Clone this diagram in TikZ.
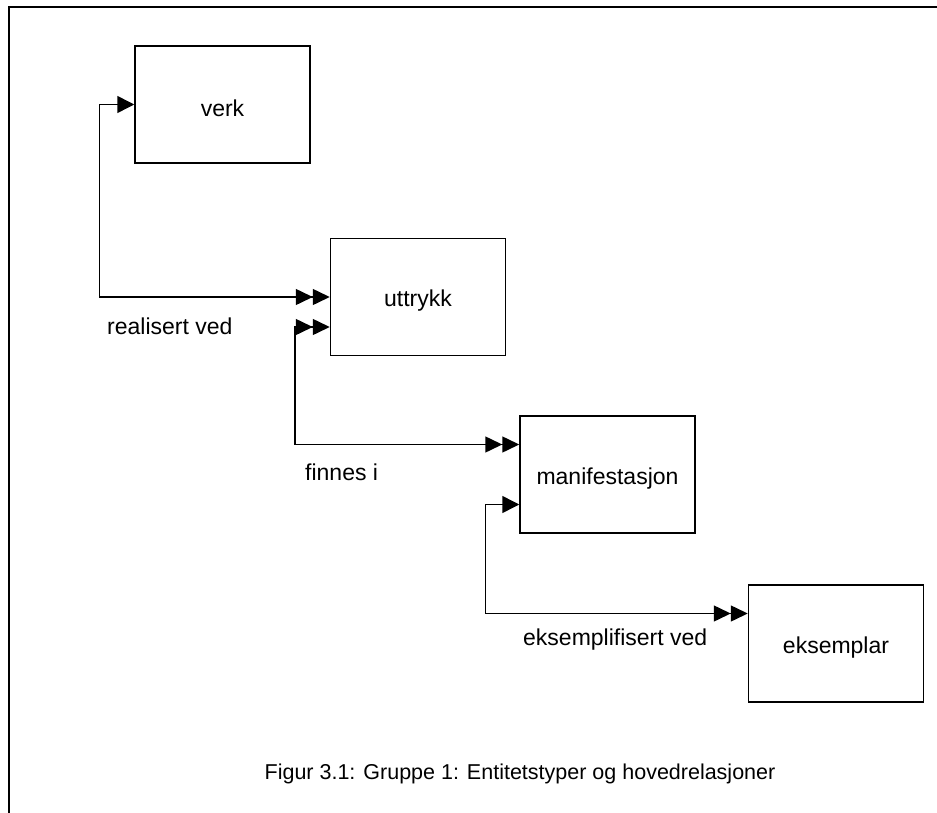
\documentclass[tikz,border=0pt]{standalone}
\usepackage{fontspec}
\setmainfont{Liberation Sans}
\usetikzlibrary{arrows.meta,positioning}
\tikzset{
  entity/.style={draw, line width=1.5pt, minimum width=175pt, minimum height=117pt, inner sep=0pt, text depth=0pt, yshift=0pt},
  rel/.style={line width=1.5pt, line join=miter},
  lbl/.style={anchor=west, inner sep=0pt},
  etip/.tip={Triangle[length=17pt,width=17pt]},
  dtip/.tip={Triangle[length=17pt,width=16pt] Triangle[length=17pt,width=16pt]},
}
\begin{document}
\begin{tikzpicture}[x=1pt, y=-1pt, font=\fontsize{23}{27}\selectfont]
		\useasboundingbox (0,0) rectangle (937,813);
		\draw[line width=1.5pt] (9,813) -- (9,7) -- (937,7);
		% entitetstyper
		\node[entity] (verk) at (222.5,104.5) {};
		\node[entity] (uttrykk) at (418,297) {};
		\node[entity] (manif) at (607.5,474.5) {};
		\node[entity] (eksempl) at (836,643.5) {};
		\node (verktxt) at ([yshift=-4pt]verk.center) {verk};
		\node (uttrykktxt) at ([yshift=-4pt]uttrykk.center) {uttrykk};
		\node (maniftxt) at ([yshift=-4pt]manif.center) {manifestasjon};
		\node (eksempltxt) at ([yshift=-4pt]eksempl.center) {eksemplar};
		% relasjoner
		\draw[rel, {etip}-{dtip}] (verk.west) -- ++(-35,0) |- (uttrykk.west);
		\draw[rel, {dtip}-{dtip}] ([yshift=-30pt]uttrykk.west) -- ++(-35,0) |- ([yshift=30pt]manif.west);
		\draw[rel, {etip}-{dtip}] ([yshift=-30pt]manif.west) -- ++(-34,0) |- ([yshift=30pt]eksempl.west);
		\node[lbl] (realisert) at (107,326) {realisert ved};
		\node[lbl] (finnes) at (305,472) {finnes i};
		\node[lbl] (eksemplif) at (523,640) {eksemplifisert ved};
		% figurtekst
		\node[font=\fontsize{21.5}{25}\selectfont] (caption) at (520,774) {Figur 3.1: Gruppe 1: Entitetstyper og hovedrelasjoner};
\end{tikzpicture}
\end{document}
